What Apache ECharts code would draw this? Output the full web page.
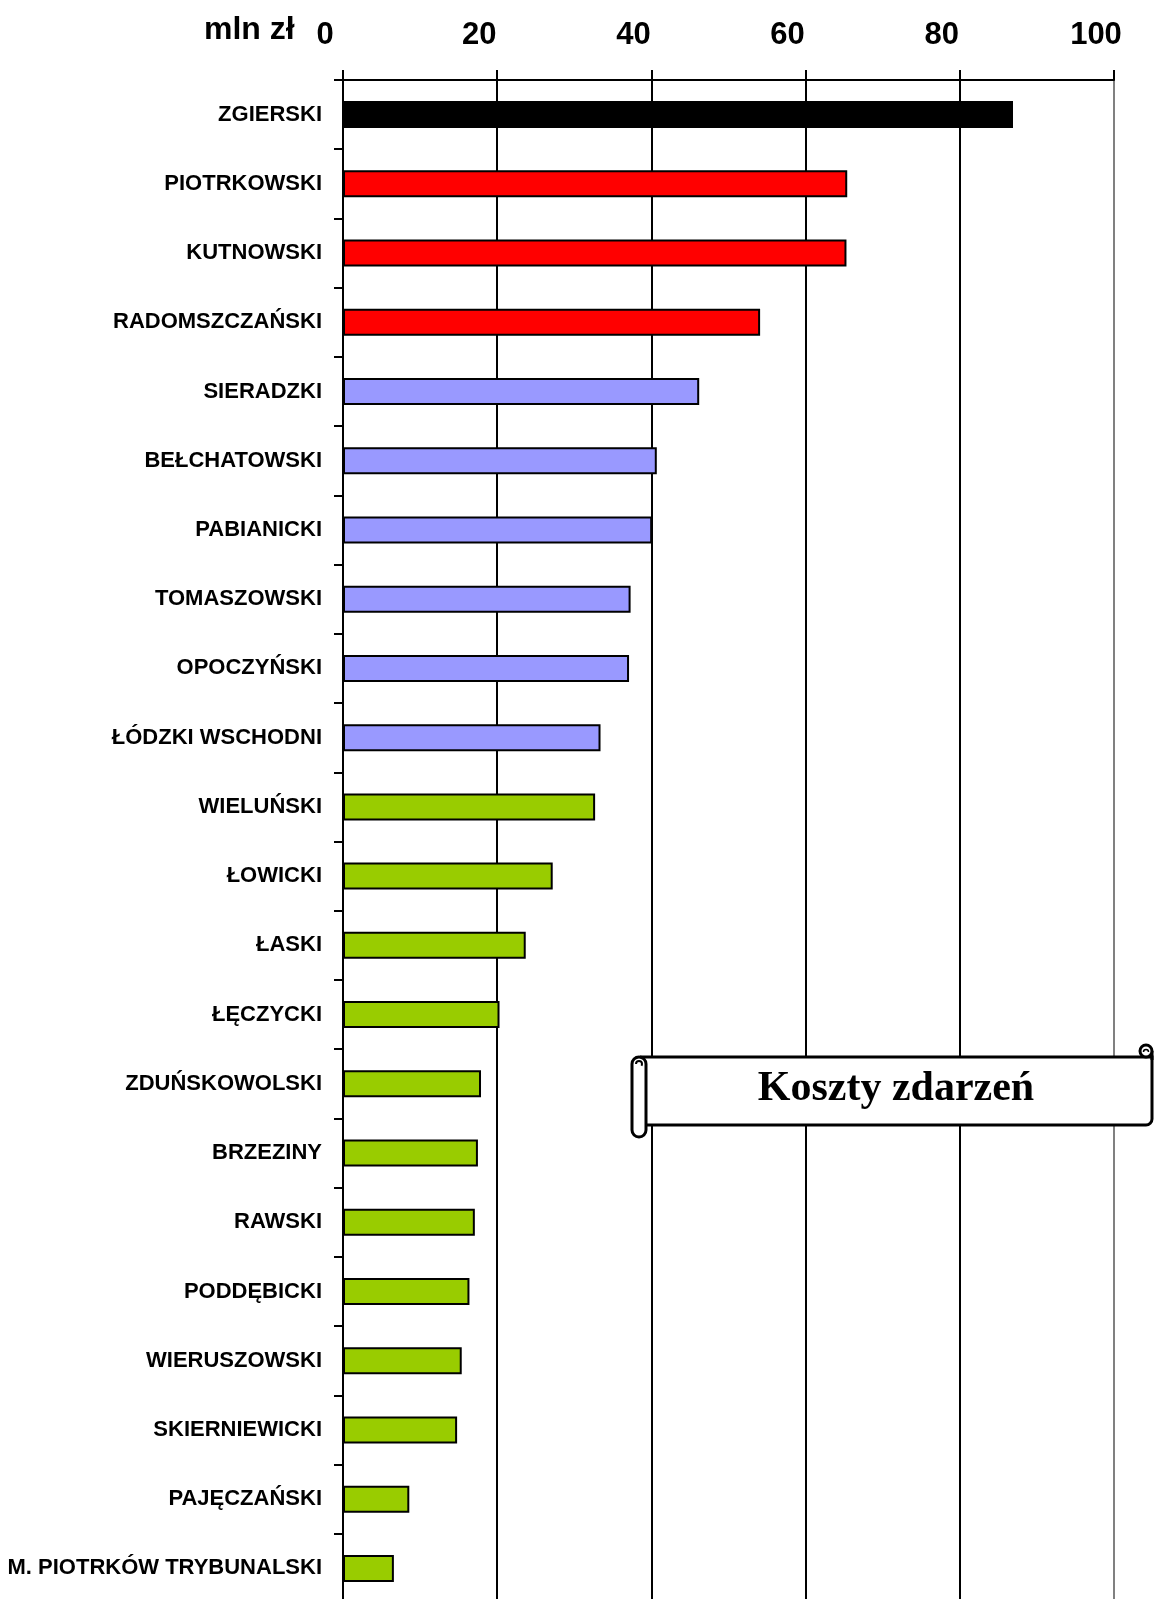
<!DOCTYPE html>
<html lang="pl">
<head>
<meta charset="utf-8">
<title>Koszty zdarzeń</title>
<script src="https://cdn.jsdelivr.net/npm/echarts@6/dist/echarts.min.js"></script>
<style>
  html, body { margin: 0; padding: 0; background: #fff; }
  #chart { width: 1155px; height: 1599px; }
</style>
</head>
<body>
<div id="chart"></div>
<script>
// Powiaty województwa łódzkiego, koszty zdarzeń (mln zł)
const categories = [
  'ZGIERSKI', 'PIOTRKOWSKI', 'KUTNOWSKI', 'RADOMSZCZAŃSKI', 'SIERADZKI',
  'BEŁCHATOWSKI', 'PABIANICKI', 'TOMASZOWSKI', 'OPOCZYŃSKI', 'ŁÓDZKI WSCHODNI',
  'WIELUŃSKI', 'ŁOWICKI', 'ŁASKI', 'ŁĘCZYCKI', 'ZDUŃSKOWOLSKI', 'BRZEZINY',
  'RAWSKI', 'PODDĘBICKI', 'WIERUSZOWSKI', 'SKIERNIEWICKI', 'PAJĘCZAŃSKI',
  'M. PIOTRKÓW TRYBUNALSKI'
];
const costs = [
  86.9, 65.4, 65.3, 54.1, 46.2,
  40.7, 40.1, 37.3, 37.1, 33.4,
  32.7, 27.2, 23.7, 20.3, 17.9, 17.5,
  17.1, 16.4, 15.4, 14.8, 8.6,
  6.6
];
// Klasa kosztów: 0 – najwyższe, 1 – wysokie, 2 – średnie, 3 – niskie
const tiers = [
  0, 1, 1, 1, 2,
  2, 2, 2, 2, 2,
  3, 3, 3, 3, 3, 3,
  3, 3, 3, 3, 3,
  3
];
const xTicks = [0, 20, 40, 60, 80, 100];
const unitLabel = 'mln zł';
const title = 'Koszty zdarzeń';

const tierColors = ['#000000', '#FF0000', '#9999FF', '#99CC00'];
const sans = '"Liberation Sans", Arial, sans-serif';
const serif = '"Liberation Serif", "Times New Roman", serif';

const chart = echarts.init(document.getElementById('chart'), null, { renderer: 'canvas' });

chart.setOption({
  animation: false,
  backgroundColor: '#ffffff',
  grid: {
    left: 343, right: 41, top: 80, bottom: -4,
    outerBoundsMode: 'none'
  },
  xAxis: {
    type: 'value',
    position: 'top',
    min: xTicks[0],
    max: xTicks[xTicks.length - 1],
    interval: xTicks[1] - xTicks[0],
    axisLine: { show: true, lineStyle: { color: '#000', width: 2 } },
    axisTick: { show: true, length: 10, lineStyle: { color: '#000', width: 2 } },
    axisLabel: {
      margin: 29,
      color: '#000',
      fontFamily: sans,
      fontWeight: 'bold',
      fontSize: 31,
      padding: [0, 36, 0, 0]
    },
    splitLine: {
      show: true,
      lineStyle: { color: ['#000', '#000', '#000', '#000', '#000', '#808080'], width: 2 }
    }
  },
  yAxis: {
    type: 'category',
    inverse: true,
    data: categories,
    axisLine: { show: true, lineStyle: { color: '#000', width: 2 } },
    axisTick: { show: true, length: 9, alignWithLabel: false, lineStyle: { color: '#000', width: 2 } },
    axisLabel: {
      margin: 21,
      color: '#000',
      fontFamily: sans,
      fontWeight: 'bold',
      fontSize: 22,
      interval: 0
    },
    splitLine: { show: false }
  },
  series: [{
    type: 'bar',
    barWidth: 27,
    data: costs.map((v, i) => ({
      value: v,
      itemStyle: { color: tierColors[tiers[i]] }
    })),
    itemStyle: { borderColor: '#000', borderWidth: 2 }
  }],
  graphic: [
    {
      type: 'text',
      left: 204, top: 14, z: 100,
      style: {
        text: unitLabel,
        fill: '#000',
        font: 'bold 32px ' + sans
      }
    },
    // zwój z tytułem: korpus
    {
      type: 'rect', z: 100,
      shape: { x: 640, y: 1057, width: 512, height: 68, r: [0, 0, 6, 0] },
      style: { fill: '#fff', stroke: '#000', lineWidth: 3 }
    },
    // lewy zwinięty brzeg
    {
      type: 'rect', z: 101,
      shape: { x: 632, y: 1057, width: 14, height: 80, r: 7 },
      style: { fill: '#fff', stroke: '#000', lineWidth: 3 }
    },
    {
      type: 'arc', z: 102,
      shape: { cx: 639, cy: 1064, r: 3, startAngle: Math.PI, endAngle: Math.PI * 2.2 },
      style: { fill: 'none', stroke: '#000', lineWidth: 2 }
    },
    // prawy zwinięty brzeg
    {
      type: 'line', z: 101,
      shape: { x1: 1152, y1: 1051, x2: 1152, y2: 1060 },
      style: { stroke: '#000', lineWidth: 3 }
    },
    {
      type: 'circle', z: 102,
      shape: { cx: 1146, cy: 1051, r: 6 },
      style: { fill: '#fff', stroke: '#000', lineWidth: 3 }
    },
    {
      type: 'arc', z: 103,
      shape: { cx: 1146, cy: 1052, r: 2.5, startAngle: Math.PI, endAngle: Math.PI * 2 },
      style: { fill: 'none', stroke: '#000', lineWidth: 1.5 }
    },
    {
      type: 'text', z: 103,
      x: 896, y: 1089,
      style: {
        text: title,
        fill: '#000',
        font: 'bold 42px ' + serif,
        align: 'center',
        verticalAlign: 'middle'
      }
    }
  ]
});
</script>
</body>
</html>
